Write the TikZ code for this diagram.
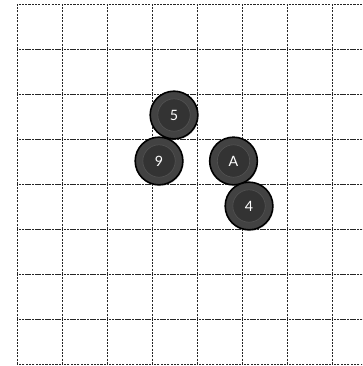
\documentclass[tikz,border=0pt]{standalone}
\usepackage{fontspec}
\setmainfont{Lato}
\usetikzlibrary{shadows}

\begin{document}
\begin{tikzpicture}[x=1cm,y=1cm, every node/.style={font=\fontsize{9}{9}\selectfont},
 cell/.style={draw=black!85,line width=0.6pt,dash pattern=on 1.3pt off 0.8pt},
 stone/.style={circle,draw=black,line width=1pt,fill=black!74,minimum size=10.6mm,inner sep=0pt,
   text=white,drop shadow={shadow xshift=0.4pt,shadow yshift=-0.8pt,opacity=0.3},
   path picture={\fill[black!80] (path picture bounding box.center) circle (3.6mm);
     \draw[black!68,line width=0.4pt] (path picture bounding box.center) circle (3.6mm);}}]
\clip (-0.378,-0.044) rectangle (7.667,8.089);
% board
\foreach \i in {0,...,7}
  \foreach \j in {0,...,7}
    \draw[cell] (\i,\j) rectangle ++(1,1);
% stones
\node[stone] (s5) at (3.489,5.533) {5};
\node[stone] (s9) at (3.156,4.511) {9};
\node[stone] (sA) at (4.811,4.511) {A};
\node[stone] (s4) at (5.156,3.511) {4};
\end{tikzpicture}
\end{document}
